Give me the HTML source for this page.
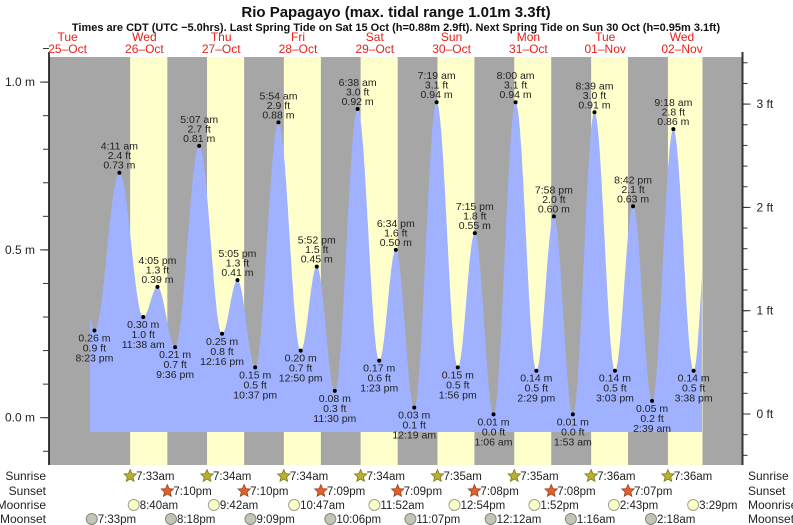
<!DOCTYPE html>
<html><head><meta charset="utf-8"><style>
html,body{margin:0;padding:0;background:#fff;}
svg{display:block;font-family:"Liberation Sans",sans-serif;}
</style></head><body>
<svg id="chart" width="793" height="525" viewBox="0 0 793 525" xmlns="http://www.w3.org/2000/svg">
<text x="396" y="17" text-anchor="middle" font-size="15" font-weight="bold" fill="#111">Rio Papagayo (max. tidal range 1.01m 3.3ft)</text>
<text x="396" y="31" text-anchor="middle" font-size="11" font-weight="bold" fill="#111">Times are CDT (UTC −5.0hrs). Last Spring Tide on Sat 15 Oct (h=0.88m 2.9ft). Next Spring Tide on Sun 30 Oct (h=0.95m 3.1ft)</text>
<g id="bands"></g>
<g id="curve"></g>
<g id="labels"></g>
<g id="axes"></g>
<g id="days"></g>
<g id="astro"></g>
</svg>
<script>
// ---- data ----
const dayNames = ["Tue","Wed","Thu","Fri","Sat","Sun","Mon","Tue","Wed"];
const dayDates = ["25–Oct","26–Oct","27–Oct","28–Oct","29–Oct","30–Oct","31–Oct","01–Nov","02–Nov"];
// tide extremes: day index (0 = 26-Oct), time, height m, height ft
const tideDay = [-1,0,0,0,0,1,1,1,1,2,2,2,2,3,3,3,4,4,4,4,5,5,5,5,6,6,6,6,7,7,7];
const tideTime = ["8:23 pm","4:11 am","11:38 am","4:05 pm","9:36 pm","5:07 am","12:16 pm","5:05 pm","10:37 pm","5:54 am","12:50 pm","5:52 pm","11:30 pm","6:38 am","1:23 pm","6:34 pm","12:19 am","7:19 am","1:56 pm","7:15 pm","1:06 am","8:00 am","2:29 pm","7:58 pm","1:53 am","8:39 am","3:03 pm","8:42 pm","2:39 am","9:18 am","3:38 pm"];
const tideM = [0.26,0.73,0.30,0.39,0.21,0.81,0.25,0.41,0.15,0.88,0.20,0.45,0.08,0.92,0.17,0.50,0.03,0.94,0.15,0.55,0.01,0.94,0.14,0.60,0.01,0.91,0.14,0.63,0.05,0.86,0.14];
const tideFt = ["0.9","2.4","1.0","1.3","0.7","2.7","0.8","1.3","0.5","2.9","0.7","1.5","0.3","3.0","0.6","1.6","0.1","3.1","0.5","1.8","0.0","3.1","0.5","2.0","0.0","3.0","0.5","2.1","0.2","2.8","0.5"];
const sunriseT = ["7:33am","7:34am","7:34am","7:34am","7:35am","7:35am","7:36am","7:36am"];
const sunsetT = ["7:10pm","7:10pm","7:09pm","7:09pm","7:08pm","7:08pm","7:07pm"];
const moonriseT = ["8:40am","9:42am","10:47am","11:52am","12:54pm","1:52pm","2:43pm","3:29pm"];
const moonsetDay = [-1,0,1,2,3,5,6,7];
const moonsetT = ["7:33pm","8:18pm","9:09pm","10:06pm","11:07pm","12:12am","1:16am","2:18am"];
const yTicksM = [0.0,0.5,1.0];
const yTicksFt = [0,1,2,3];

// ---- scales ----
const NS="http://www.w3.org/2000/svg";
const X0=106, PXH=3.2, Y0=417.7, PXM=335.6;
const PL=49, PR=742.5, PT=57, PB=465;
function parseT(s){const m=s.match(/(\d+):(\d+)\s*(am|pm)/);let h=+m[1]%12;if(m[3]==="pm")h+=12;return h+(+m[2])/60;}
function xH(h){return X0+h*PXH;}
function xT(d,s){return xH(d*24+parseT(s));}
function yM(v){return Y0-v*PXM;}
function yFt(f){return 414-f*103.3;}
function el(tag,attrs,parent,text){const e=document.createElementNS(NS,tag);for(const k in attrs)e.setAttribute(k,attrs[k]);if(text!==undefined)e.textContent=text;parent.appendChild(e);return e;}

// ---- bands ----
const bands=document.getElementById('bands');
let b=el('rect',{x:PL,y:PT,width:PR-PL,height:PB-PT,fill:'#a6a6a6'},bands);


for(let d=0;d<8;d++){
  const x1=xT(d,sunriseT[d]);
  const x2=Math.min(d<7?xT(d,sunsetT[d]):702.5,PR);
  const r=el('rect',{x:x1,y:PT,width:x2-x1,height:PB-PT,fill:'#ffffcc'},bands);
  
  
}

// ---- curve ----
const hs=tideDay.map((d,i)=>d*24+parseT(tideTime[i]));
const ext=[{h:-10.2,v:0.68}].concat(hs.map((h,i)=>({h:h,v:tideM[i]}))).concat([{h:hs[hs.length-1]+4.9,v:0.66}]);
function tideAt(h){for(let i=0;i<ext.length-1;i++){const a=ext[i],c=ext[i+1];if(h>=a.h&&h<=c.h){const f=(h-a.h)/(c.h-a.h);return a.v+(c.v-a.v)*(1-Math.cos(Math.PI*f))/2;}}return ext[ext.length-1].v;}
const hStart=(90-X0)/PXH, hEnd=(702-X0)/PXH, yBase=432;
let dpath=`M${xH(hStart).toFixed(1)},${yBase}`;
for(let h=hStart;h<=hEnd+0.001;h+=0.1){dpath+=` L${xH(h).toFixed(1)},${yM(tideAt(h)).toFixed(1)}`;}
dpath+=` L${xH(hEnd).toFixed(1)},${yBase} Z`;
const cp=el('path',{d:dpath,fill:'#9fb1ff'},document.getElementById('curve'));



// ---- labels ----
const lg=document.getElementById('labels');
for(let i=0;i<hs.length;i++){
  const x=xH(hs[i]),y=yM(tideM[i]);
  const dot=el('circle',{cx:x,cy:y,r:2,fill:'#000'},lg);
  
  
  const prev=i>0?tideM[i-1]:0.7, next=i<hs.length-1?tideM[i+1]:0.7;
  const high=tideM[i]>prev&&tideM[i]>next;
  const lines=high?[tideTime[i],tideFt[i]+" ft",tideM[i].toFixed(2)+" m"]:[tideM[i].toFixed(2)+" m",tideFt[i]+" ft",tideTime[i]];
  const t=el('text',{x:x,'text-anchor':'middle','font-size':'10.5',fill:'#222'},lg);
  
  
  lines.forEach((s,k)=>{const yy=high?y-4-(2-k)*9.5:y+11+k*10;el('tspan',{x:x,y:yy},t,s);});
}

// ---- axes ----
const ax=document.getElementById('axes');
el('line',{x1:PL,y1:PT-5,x2:PL,y2:PB,stroke:'#000','stroke-width':1.5},ax);
el('line',{x1:PR,y1:PT-5,x2:PR,y2:PB,stroke:'#333','stroke-width':2},ax);
for(let v=-0.1;v<=1.1;v+=0.1){el('line',{x1:PL-6,y1:yM(v),x2:PL,y2:yM(v),stroke:'#333'},ax);}
yTicksM.forEach(v=>{el('line',{x1:PL-9,y1:yM(v),x2:PL,y2:yM(v),stroke:'#333'},ax);
  const t=el('text',{x:PL-14,y:yM(v)+4,'text-anchor':'end','font-size':'12',fill:'#222'},ax,v.toFixed(1)+" m");
  
  });
for(let f=-0.4;f<=3.6;f+=0.2){el('line',{x1:PR,y1:yFt(f),x2:PR+5,y2:yFt(f),stroke:'#333'},ax);}
yTicksFt.forEach(f=>{el('line',{x1:PR,y1:yFt(f),x2:PR+8,y2:yFt(f),stroke:'#333'},ax);
  const t=el('text',{x:PR+14,y:yFt(f)+4,'font-size':'12',fill:'#222'},ax,f+" ft");
  
  });

// ---- day labels ----
const dg=document.getElementById('days');
for(let d=0;d<dayNames.length;d++){
  const x=xH((d-1)*24+12);
  const t=el('text',{x:x,'text-anchor':'middle','font-size':'12',fill:'#e8201a'},dg);
  
  
  el('tspan',{x:x,y:41},t,dayNames[d]);el('tspan',{x:x,y:53},t,dayDates[d]);
}

// ---- astro rows ----
const ag=document.getElementById('astro');
const rows=[["Sunrise",476],["Sunset",491],["Moonrise",505],["Moonset",519]];
rows.forEach(r=>{
  const a=el('text',{x:46,y:r[1]+4,'text-anchor':'end','font-size':'12',fill:'#222'},ag,r[0]);
  
  
  const c=el('text',{x:748,y:r[1]+4,'font-size':'12',fill:'#222'},ag,r[0]);
  
  
});
function star(x,y,fill,stroke){let p='';for(let k=0;k<10;k++){const rr=k%2?3:6.5,a=-Math.PI/2+k*Math.PI/5;p+=(k?'L':'M')+(x+rr*Math.cos(a)).toFixed(1)+','+(y+rr*Math.sin(a)).toFixed(1);}return el('path',{d:p+'Z',fill:fill,stroke:stroke,'stroke-width':0.8},ag);}
function item(x,y,label,name){
  const t=el('text',{x:x+6,y:y+4,'font-size':'11.5',fill:'#222'},ag,label);
  
  
}
sunriseT.forEach((s,d)=>{const x=xT(d,s);const st=star(x,476,'#b8b030','#807820');
  
  
  item(x,476,s,'sunrise-time');});
sunsetT.forEach((s,d)=>{const x=xT(d,s);const st=star(x,491,'#e0602a','#a04020');
  
  
  item(x,491,s,'sunset-time');});
moonriseT.forEach((s,d)=>{const x=xT(d,s);const c=el('circle',{cx:x,cy:505,r:5.5,fill:'#ffffc8',stroke:'#a0a090'},ag);
  
  
  item(x,505,s,'moonrise-time');});
moonsetT.forEach((s,i)=>{const x=xT(moonsetDay[i],s);const c=el('circle',{cx:x,cy:519,r:5.5,fill:'#c4c4b8',stroke:'#888878'},ag);
  
  
  item(x,519,s,'moonset-time');});
</script>
</body></html>
